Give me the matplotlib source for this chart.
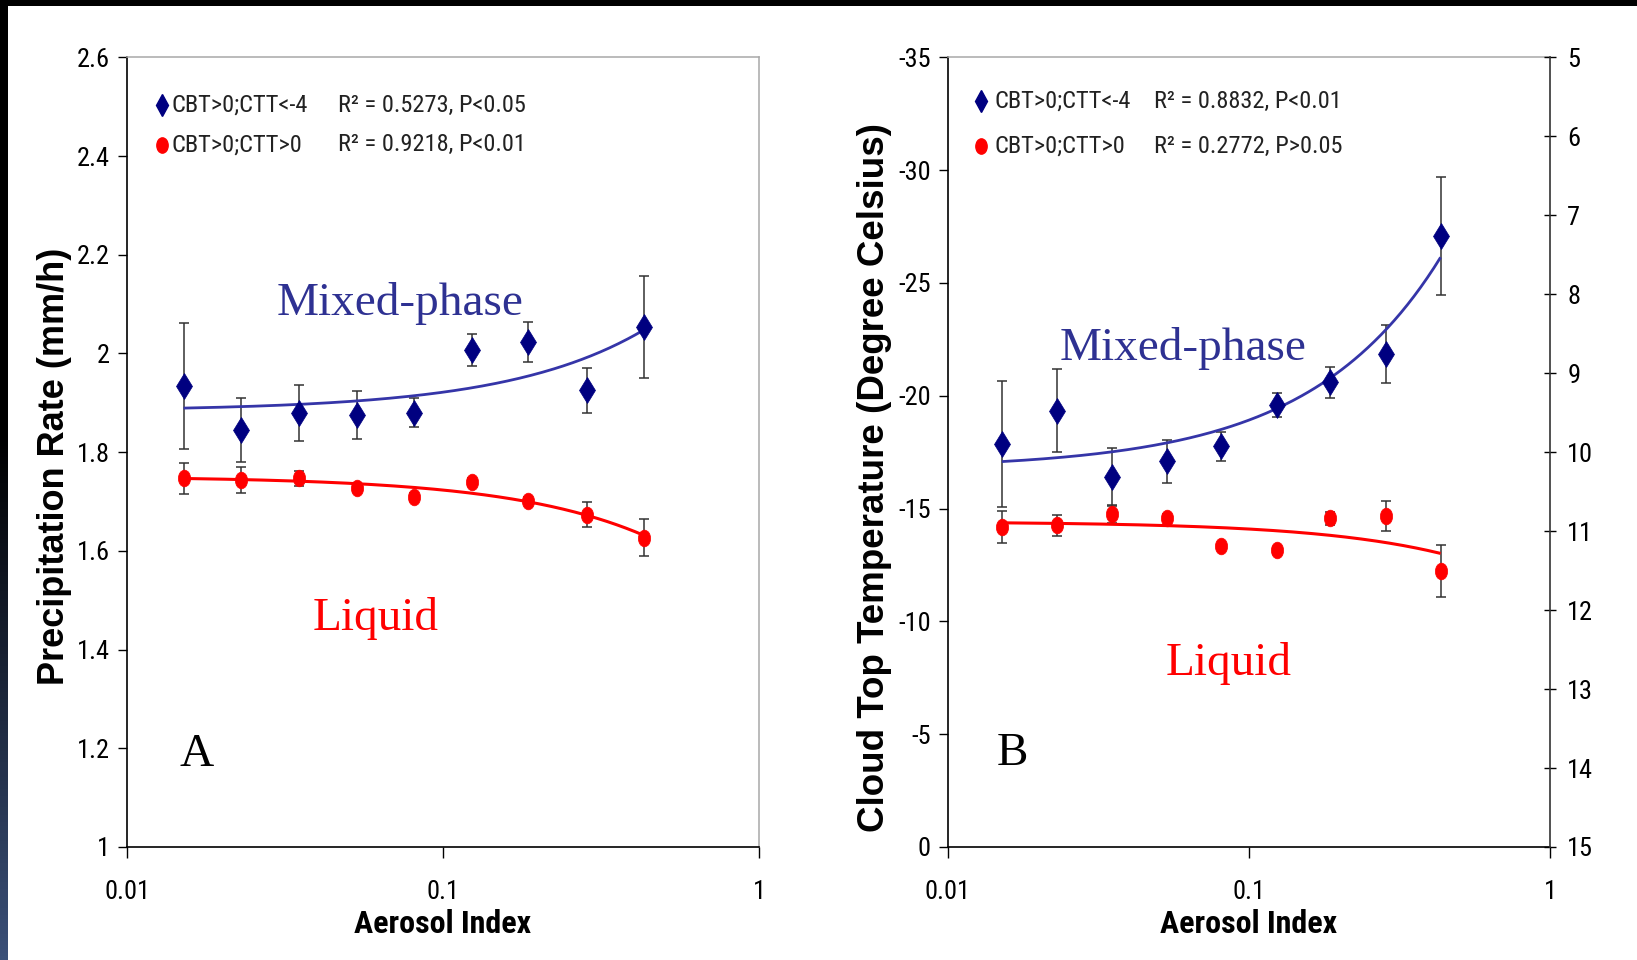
import numpy as np
import matplotlib
matplotlib.use("Agg")
import matplotlib.pyplot as plt
from matplotlib import font_manager
from matplotlib.path import Path
from matplotlib.transforms import Affine2D
from matplotlib.patches import Rectangle
from matplotlib.colors import LinearSegmentedColormap

# ---- data -------------------------------------------------------------
aerosol_index = [0.0151, 0.0230, 0.0351, 0.0536, 0.0807, 0.1236, 0.1864, 0.2855, 0.433]

precip_mixed = [1.934, 1.845, 1.879, 1.875, 1.880, 2.007, 2.023, 1.925, 2.053]
precip_mixed_err = [0.127, 0.064, 0.057, 0.048, 0.030, 0.032, 0.040, 0.045, 0.103]
precip_liquid = [1.747, 1.744, 1.747, 1.727, 1.709, 1.740, 1.702, 1.673, 1.627]
precip_liquid_err = [0.032, 0.026, 0.015, 0.008, 0.008, 0.008, 0.008, 0.025, 0.037]

ctt_mixed = [-17.85, -19.34, -16.40, -17.09, -17.76, -19.60, -20.59, -21.86, -27.08]
ctt_mixed_err = [2.80, 1.85, 1.30, 0.95, 0.64, 0.54, 0.68, 1.28, 2.60]
ctt_liquid = [-14.19, -14.25, -14.76, -14.59, -13.33, -13.15, -14.56, -14.66, -12.25]
ctt_liquid_err = [0.72, 0.47, 0.40, 0.15, 0.10, 0.15, 0.30, 0.67, 1.15]

legend_groups = ["CBT>0;CTT<-4", "CBT>0;CTT>0"]
stats_a = ["R² = 0.5273, P<0.05", "R² = 0.9218, P<0.01"]
stats_b = ["R² = 0.8832, P<0.01", "R² = 0.2772, P>0.05"]

x_ticks = [0.01, 0.1, 1]
x_tick_labels = ["0.01", "0.1", "1"]
precip_ticks = [1.0, 1.2, 1.4, 1.6, 1.8, 2.0, 2.2, 2.4, 2.6]
precip_tick_labels = ["1", "1.2", "1.4", "1.6", "1.8", "2", "2.2", "2.4", "2.6"]
ctt_ticks = [0, -5, -10, -15, -20, -25, -30, -35]
ctt_tick_labels = ["0", "-5", "-10", "-15", "-20", "-25", "-30", "-35"]
right_ticks = [5, 6, 7, 8, 9, 10, 11, 12, 13, 14, 15]
right_tick_labels = [str(v) for v in right_ticks]

# ---- fonts ------------------------------------------------------------
available = {f.name for f in font_manager.fontManager.ttflist}
narrow_names = [n for n in ("Liberation Sans Narrow", "Arial Narrow",
                            "Roboto Condensed", "Open Sans Condensed")
                if n in available]
HAS_NARROW = bool(narrow_names)
NARROW = narrow_names + ["Liberation Sans", "DejaVu Sans"]
SANS = ["Liberation Sans", "DejaVu Sans"]
SERIF = ["Liberation Serif", "DejaVu Serif"]

TICK_SIZE = 19 if HAS_NARROW else 16.5
LEGEND_SIZE = 17.6 if HAS_NARROW else 15
XLABEL_SIZE = 23 if HAS_NARROW else 20

NAVY = "#000080"
BLUE_LINE = "#3535a8"
BLUE_TEXT = "#2e3192"
RED = "#ff0000"
ERR = "#333333"
FRAME_GRAY = "#a8a8a8"

W, H = 1637, 960
fig = plt.figure(figsize=(W / 100, H / 100), dpi=100, facecolor="white")

# dark edge along the top and the left side
fig.add_artist(Rectangle((0, 1 - 6 / H), 1, 6 / H, transform=fig.transFigure,
                         facecolor="black", edgecolor="none", zorder=10))
strip = fig.add_axes([0, 0, 8 / W, 1 - 6 / H])
strip.set_axis_off()
edge_cmap = LinearSegmentedColormap.from_list(
    "edge", [(0, "#000000"), (0.45, "#000000"), (0.75, "#1f2a40"), (1, "#3b5078")])
strip.imshow(np.linspace(0, 1, 256)[:, None], aspect="auto", cmap=edge_cmap,
             extent=[0, 1, 1, 0])

# oval marker for the liquid series
oval = Path.unit_circle().transformed(Affine2D().scale(0.74, 1.0))

AX_BOTTOM = (H - 847) / H
AX_HEIGHT = (847 - 57.3) / H
ax_a = fig.add_axes([127 / W, AX_BOTTOM, (759 - 127) / W, AX_HEIGHT])
ax_b = fig.add_axes([948 / W, AX_BOTTOM, (1550 - 948) / W, AX_HEIGHT])


def fit_curve(x, y):
    """Least-squares straight line in x, drawn across the sampled range."""
    slope, icpt = np.polyfit(np.asarray(x), np.asarray(y), 1)
    xs = np.geomspace(min(x), max(x), 200)
    return xs, icpt + slope * xs


def style_axes(ax):
    ax.set_xscale("log")
    ax.set_xlim(0.01, 1)
    ax.set_xticks(x_ticks)
    ax.set_xticklabels(x_tick_labels)
    ax.xaxis.set_minor_locator(matplotlib.ticker.NullLocator())
    for side in ("left", "bottom"):
        ax.spines[side].set_color("black")
        ax.spines[side].set_linewidth(1.2)
    ax.spines["top"].set_color(FRAME_GRAY)
    ax.spines["top"].set_linewidth(1.1)
    ax.tick_params(axis="x", direction="out", length=8, width=1.0, pad=16,
                   labelsize=TICK_SIZE, colors="black")
    ax.tick_params(axis="y", direction="out", length=6.5, width=1.0, pad=6,
                   labelsize=TICK_SIZE, colors="black")
    for lab in ax.get_xticklabels() + ax.get_yticklabels():
        lab.set_family(NARROW)
    ax.set_xlabel("Aerosol Index", family=NARROW, fontsize=XLABEL_SIZE,
                  fontweight="bold")
    ax.xaxis.set_label_coords(0.5, -0.078)


def draw_series(ax, x, y, err, marker, ms, color, line_color, lw):
    xs, ys = fit_curve(x, y)
    ax.errorbar(x, y, yerr=err, fmt="none", ecolor=ERR, elinewidth=1.1,
                capsize=3.6, capthick=1.1, zorder=2)
    ax.plot(xs, ys, color=line_color, lw=lw, zorder=3, solid_capstyle="butt")
    ax.plot(x, y, linestyle="none", marker=marker, markersize=ms,
            markerfacecolor=color, markeredgecolor=color, markeredgewidth=0.5,
            zorder=4)


def draw_legend(ax, x_mark, x_text, x_stat, rows_y, stats):
    ax.plot([x_mark], [rows_y[0]], transform=ax.transAxes, marker="d",
            markersize=11, color=NAVY, linestyle="none", clip_on=False)
    ax.plot([x_mark], [rows_y[1]], transform=ax.transAxes, marker=oval,
            markersize=11, color=RED, linestyle="none", clip_on=False)
    for yy, name, stat in zip(rows_y, legend_groups, stats):
        ax.text(x_text, yy, name, transform=ax.transAxes, family=NARROW,
                fontsize=LEGEND_SIZE, color="#222222", ha="left", va="center")
        ax.text(x_stat, yy, stat, transform=ax.transAxes, family=NARROW,
                fontsize=LEGEND_SIZE, color="#222222", ha="left", va="center")


# ---- panel A: precipitation rate --------------------------------------
style_axes(ax_a)
ax_a.spines["right"].set_color(FRAME_GRAY)
ax_a.spines["right"].set_linewidth(1.1)
ax_a.set_ylim(1.0, 2.6)
ax_a.set_yticks(precip_ticks)
ax_a.set_yticklabels(precip_tick_labels, family=NARROW)

draw_series(ax_a, aerosol_index, precip_mixed, precip_mixed_err, "d", 13,
            NAVY, BLUE_LINE, 2.0)
draw_series(ax_a, aerosol_index, precip_liquid, precip_liquid_err, oval, 12.0,
            RED, RED, 2.2)

ax_a.set_ylabel("Precipitation Rate (mm/h)", family=SANS, fontsize=26,
                fontweight="bold", va="center")
ax_a.yaxis.set_label_coords(-0.1155, 0.4825)

ax_a.text(0.432, 0.6737, "Mixed-phase", transform=ax_a.transAxes, family=SERIF,
          fontsize=34, color=BLUE_TEXT, ha="center", va="baseline")
ax_a.text(0.394, 0.2748, "Liquid", transform=ax_a.transAxes, family=SERIF,
          fontsize=34, color=RED, ha="center", va="baseline")
ax_a.text(0.110, 0.1026, "A", transform=ax_a.transAxes, family=SERIF,
          fontsize=34, color="black", ha="center", va="baseline")
draw_legend(ax_a, 0.0549, 0.0707, 0.334, (0.9396, 0.8890), stats_a)

# ---- panel B: cloud top temperature -----------------------------------
style_axes(ax_b)
ax_b.spines["right"].set_visible(False)
ax_b.set_ylim(0, -35)
ax_b.set_yticks(ctt_ticks)
ax_b.set_yticklabels(ctt_tick_labels, family=NARROW)

draw_series(ax_b, aerosol_index, ctt_mixed, ctt_mixed_err, "d", 13,
            NAVY, BLUE_LINE, 2.0)
draw_series(ax_b, aerosol_index, ctt_liquid, ctt_liquid_err, oval, 12.0,
            RED, RED, 2.2)

ax_b.set_ylabel("Cloud Top Temperature (Degree Celsius)", family=SANS,
                fontsize=26.5, fontweight="bold", va="center")
ax_b.yaxis.set_label_coords(-0.1213, 0.4679)

ax_b.text(0.391, 0.6167, "Mixed-phase", transform=ax_b.transAxes, family=SERIF,
          fontsize=34, color=BLUE_TEXT, ha="center", va="baseline")
ax_b.text(0.466, 0.2178, "Liquid", transform=ax_b.transAxes, family=SERIF,
          fontsize=34, color=RED, ha="center", va="baseline")
ax_b.text(0.107, 0.1038, "B", transform=ax_b.transAxes, family=SERIF,
          fontsize=34, color="black", ha="center", va="baseline")
draw_legend(ax_b, 0.0556, 0.0774, 0.3414, (0.9447, 0.8877), stats_b)

# secondary scale on the right of panel B
ax_r = ax_b.twinx()
ax_r.set_ylim(15, 5)
ax_r.set_yticks(right_ticks)
ax_r.set_yticklabels(right_tick_labels, family=NARROW)
for side in ("left", "top", "bottom"):
    ax_r.spines[side].set_visible(False)
ax_r.spines["right"].set_color("#333333")
ax_r.spines["right"].set_linewidth(1.2)
ax_r.tick_params(axis="y", direction="inout", length=9, width=1.0, pad=8,
                 labelsize=TICK_SIZE, colors="black")
for lab in ax_r.get_yticklabels():
    lab.set_family(NARROW)

fig.savefig("out.png", dpi=100, facecolor="white")
